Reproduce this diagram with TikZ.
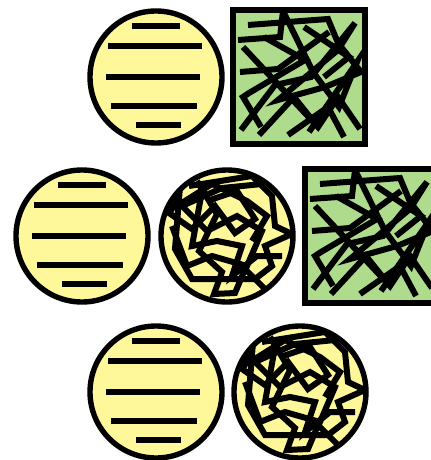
\documentclass[tikz,border=0pt]{standalone}
\definecolor{discfill}{RGB}{255,248,155}
\definecolor{boxfill}{RGB}{175,220,140}
\tikzset{
  outline/.style={line width=2.7pt},
  stripe/.style={line width=2.6pt},
  scrib/.style={line width=3pt, line join=miter},
  linedisc/.pic={
    \draw[outline, fill=discfill] (0,0) circle (66);
    \foreach \ya/\xa/\xb in {-51/-24/24, -31/-48/46, 0/-50/44, 29/-45/41, 48/-20/25}
      \draw[stripe] (\xa,\ya) -- (\xb,\ya);
  },
  scribdisc/.pic={
    \fill[discfill] (0,0) circle (66);
    \begin{scope}
      \clip (0,0) circle (64);
      \draw[scrib] (-38,-50) -- (25,-60) -- (45,-40) -- (48,-10) -- (65,-2) -- (38,10) -- (45,30) -- (28,43) -- (-35,43) -- (-52,13) -- (-48,-37) -- (-58,-23) -- (-35,-7) -- (-12,-30) -- (8,-3) -- (28,-17) -- (10,-45) -- (-20,-35);
      \draw[scrib] (-30,-55) -- (-10,-22) -- (-28,15) -- (-5,36) -- (-13,58) -- (8,57) -- (18,33) -- (38,53);
      \draw[scrib] (-55,-10) -- (-40,30) -- (-15,20) -- (20,30) -- (35,-5) -- (10,-20) -- (-20,-5) -- (-45,-30) -- (-5,-48) -- (35,-52);
      \draw[scrib] (-25,-45) -- (-35,10) -- (-10,5) -- (15,10) -- (5,40) -- (30,20) -- (55,20);
      \draw[scrib] (-50,-30) -- (-15,-52) -- (20,-35) -- (40,-20) -- (25,5);
    \end{scope}
    \draw[outline] (0,0) circle (66);
  },
  scribbox/.pic={
    \fill[boxfill] (-66,-67) rectangle (66,67);
    \begin{scope}
      \clip (-64,-65) rectangle (64,65);
      \draw[scrib] (-61,-37) -- (-19,-40) -- (-16,-66) -- (14,-5) -- (40,30) -- (58,-15) -- (10,55);
      \draw[scrib] (-51,-52) -- (29,-58) -- (39,-34) -- (62,-5) -- (26,10) -- (-21,23) -- (39,-27) -- (56,-54) -- (12,0) -- (-24,8) -- (-58,53);
      \draw[scrib] (-56,-30) -- (19,50) -- (39,20) -- (61,52);
      \draw[scrib] (-59,-5) -- (-21,-8) -- (30,-45);
      \draw[scrib] (-38,50) -- (-56,20) -- (-50,16) -- (6,-17) -- (-35,-40);
      \draw[scrib] (-11,58) -- (29,30) -- (45,60);
      \draw[scrib] (-40,58) -- (-5,20) -- (15,45);
      \draw[scrib] (5,-50) -- (50,-20) -- (25,0);
    \end{scope}
    \draw[outline] (-66,-67) rectangle (66,67);
  }
}
\begin{document}
\begin{tikzpicture}[x=0.5pt, y=-0.5pt]
  \useasboundingbox (0,0) rectangle (431,460);
  % top row
  \pic at (156,77) {linedisc};
  \pic at (299,77) {scribbox};
  % middle row
  \pic at (82,236) {linedisc};
  \pic at (227,236) {scribdisc};
  \pic at (371,236) {scribbox};
  % bottom row
  \pic at (156,392) {linedisc};
  \pic at (300,392) {scribdisc};
\end{tikzpicture}
\end{document}
